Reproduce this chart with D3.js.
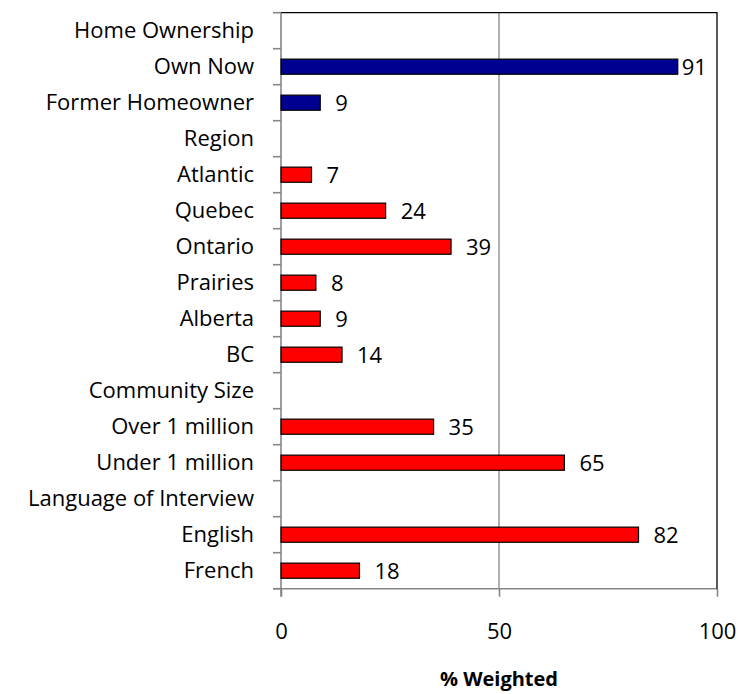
<!DOCTYPE html>
<html>
<head>
<meta charset="utf-8">
<script src="https://cdn.jsdelivr.net/npm/d3@7"></script>
<style>
  html, body { margin: 0; padding: 0; background: #fff; }
  svg { display: block; }
  text { font-family: "Open Sans", "DejaVu Sans", sans-serif; fill: #000; }
</style>
</head>
<body>
<svg id="chart" width="740" height="694"></svg>
<script>
// ---- data ----
const categories = [
  "Home Ownership", "Own Now", "Former Homeowner",
  "Region", "Atlantic", "Quebec", "Ontario", "Prairies", "Alberta", "BC",
  "Community Size", "Over 1 million", "Under 1 million",
  "Language of Interview", "English", "French"
];
const values = [null, 91, 9, null, 7, 24, 39, 8, 9, 14, null, 35, 65, null, 82, 18];
const groups = ["", "own", "own", "", "other", "other", "other", "other", "other", "other", "", "other", "other", "", "other", "other"];
const xTicks = [0, 50, 100];
const xTitle = "% Weighted";

// ---- layout ----
const pLeft = 281, pRight = 717, pTop = 12.7, pBottom = 588.7;
const grey = "#868686";
const fontSize = 22;

const svg = d3.select("#chart");

const x = d3.scaleLinear().domain([0, 100]).range([pLeft, pRight]);
const y = d3.scaleBand().domain(categories).range([pTop, pBottom])
  .paddingInner(0.58).paddingOuter(0.29);
const step = y.step();
const color = d3.scaleOrdinal().domain(["own", "other"]).range(["#000090", "#ff0000"]);

// gridline at 50
svg.append("g").selectAll("line")
  .data(xTicks.filter(t => t > 0 && t < 100))
  .join("line")
  .attr("x1", d => x(d)).attr("x2", d => x(d))
  .attr("y1", pTop).attr("y2", pBottom)
  .attr("stroke", grey).attr("stroke-width", 1.3);

// bottom axis
const xAxis = d3.axisBottom(x).tickValues(xTicks).tickSize(8).tickPadding(27)
  .tickFormat(d3.format("d"));
const gx = svg.append("g").attr("transform", `translate(0,${pBottom})`).call(xAxis);
gx.select(".domain").attr("stroke", grey).attr("stroke-width", 1.6)
  .attr("d", `M${pLeft - 8},0H${pRight}`);
gx.selectAll(".tick line").attr("stroke", grey).attr("stroke-width", 1.6);
gx.selectAll(".tick text")
  .style("font-family", '"Open Sans", sans-serif')
  .style("font-size", fontSize + "px")
  .attr("fill", "#000");

// top & right border (black)
svg.append("path")
  .attr("d", `M${pLeft},${pTop}H${pRight}V${pBottom}`)
  .attr("fill", "none").attr("stroke", "#000").attr("stroke-width", 1.3);

// left axis with ticks at category boundaries
const boundaries = d3.range(categories.length + 1).map(i => pTop + i * step);
svg.append("line")
  .attr("x1", pLeft).attr("x2", pLeft)
  .attr("y1", pTop).attr("y2", pBottom + 8)
  .attr("stroke", grey).attr("stroke-width", 1.6);
svg.append("g").selectAll("line")
  .data(boundaries)
  .join("line")
  .attr("x1", pLeft - 8).attr("x2", pLeft)
  .attr("y1", d => d).attr("y2", d => d)
  .attr("stroke", grey).attr("stroke-width", 1.6);

// category labels
svg.append("g").selectAll("text")
  .data(categories)
  .join("text")
  .attr("x", 254)
  .attr("y", d => y(d) + y.bandwidth() / 2)
  .attr("dy", "0.35em")
  .attr("text-anchor", "end")
  .style("font-size", fontSize + "px")
  .text(d => d);

// bars
const data = categories.map((c, i) => ({ c, v: values[i], g: groups[i] })).filter(d => d.v != null);
svg.append("g").selectAll("rect")
  .data(data)
  .join("rect")
  .attr("x", x(0))
  .attr("y", d => y(d.c))
  .attr("width", d => x(d.v) - x(0))
  .attr("height", y.bandwidth())
  .attr("fill", d => color(d.g))
  .attr("stroke", "#000").attr("stroke-width", 1.2);

// value labels
svg.append("g").selectAll("text")
  .data(data)
  .join("text")
  .attr("x", d => x(d.v) + (x(d.v) + 15 + 28 > pRight ? 4 : 15))
  .attr("y", d => y(d.c) + y.bandwidth() / 2)
  .attr("dy", "0.36em")
  .style("font-size", fontSize + "px")
  .text(d => d.v);

// axis title
svg.append("text")
  .attr("x", (pLeft + pRight) / 2)
  .attr("y", 686)
  .attr("text-anchor", "middle")
  .style("font-size", "20px")
  .style("font-weight", "bold")
  .text(xTitle);
</script>
</body>
</html>
